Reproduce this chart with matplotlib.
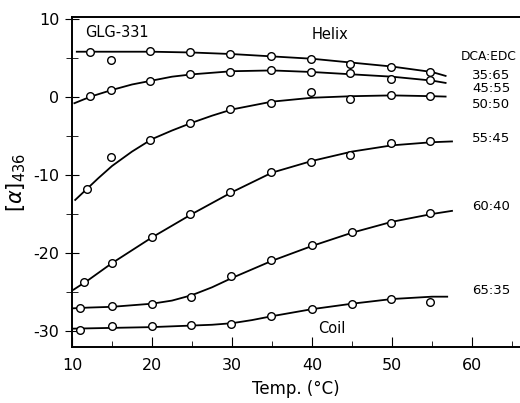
import numpy as np
import matplotlib
matplotlib.use("Agg")
import matplotlib.pyplot as plt
from matplotlib.ticker import MultipleLocator

plt.rcParams["font.family"] = ["DejaVu Sans"]
plt.rcParams["axes.unicode_minus"] = False

# measured points (open circles), one list per DCA:EDC ratio
t_35 = [12.25, 19.8, 24.75, 29.75, 34.9, 39.9, 44.8, 49.9, 54.8]
a_35 = [5.77, 5.9, 5.7, 5.5, 5.2, 4.9, 4.2, 3.9, 3.2]
t_35_extra = [14.9]
a_35_extra = [4.8]

t_45 = [12.3, 14.9, 19.8, 24.75, 29.75, 34.9, 39.9, 44.8, 49.9, 54.8]
a_45 = [0.1, 0.86, 2.1, 3.0, 3.25, 3.46, 3.2, 3.08, 2.3, 2.2]

t_50 = [11.9, 14.9, 19.8, 24.75, 29.75, 34.9, 39.9, 44.8, 49.9, 54.8]
a_50 = [-11.8, -7.7, -5.5, -3.3, -1.54, -0.73, 0.6, -0.2, 0.26, 0.13]

t_55 = [11.5, 15.0, 19.96, 24.8, 29.8, 34.9, 39.9, 44.8, 49.9, 54.8]
a_55 = [-23.7, -21.3, -18.0, -15.0, -12.2, -9.6, -8.4, -7.4, -5.9, -5.6]

t_60 = [11.0, 15.0, 20.0, 24.9, 29.9, 34.9, 40.0, 45.0, 49.9, 54.8]
a_60 = [-27.0, -26.8, -26.6, -25.6, -22.9, -20.9, -19.0, -17.3, -16.1, -14.9]

t_65 = [11.0, 15.0, 20.0, 24.9, 29.9, 34.9, 40.0, 45.0, 49.9, 54.8]
a_65 = [-29.9, -29.4, -29.4, -29.2, -29.1, -28.1, -27.2, -26.5, -25.9, -26.3]

# hand-drawn curves
ct_35 = [10.6, 15, 20, 25, 30, 35, 40, 45, 50, 55, 56.7]
ca_35 = [5.8, 5.8, 5.8, 5.7, 5.5, 5.2, 4.9, 4.4, 3.9, 3.2, 2.7]
ct_45 = [10.3, 11.5, 12.5, 15, 17.5, 20, 22.5, 25, 30, 35, 40, 45, 50, 55, 56.7]
ca_45 = [-0.8, -0.3, 0.1, 0.9, 1.6, 2.1, 2.6, 2.9, 3.3, 3.4, 3.2, 2.9, 2.6, 2.1, 1.8]
ct_50 = [10.4, 11.9, 13.3, 15, 17.5, 20, 22.5, 25, 27.5, 30, 35, 40, 45, 50, 55, 56.7]
ca_50 = [-13.2, -11.75, -10.4, -8.85, -7.0, -5.4, -4.3, -3.3, -2.4, -1.6, -0.6, -0.1, 0.1, 0.2, 0.1, 0.05]
ct_55 = [10.2, 12, 15, 20, 25, 30, 35, 40, 45, 50, 55, 57.5]
ca_55 = [-24.7, -23.5, -21.3, -18.0, -15.0, -12.2, -9.7, -8.2, -7.0, -6.2, -5.8, -5.7]
ct_60 = [10, 12, 15, 20, 22.5, 25, 27.5, 30, 35, 40, 45, 50, 55, 57.5]
ca_60 = [-27.1, -27.0, -26.9, -26.5, -26.1, -25.4, -24.4, -23.2, -21.0, -19.1, -17.4, -16.0, -15.0, -14.6]
ct_65 = [10, 15, 20, 25, 27.5, 30, 32.5, 35, 40, 45, 50, 55, 56.9]
ca_65 = [-29.7, -29.6, -29.5, -29.3, -29.2, -29.0, -28.6, -28.1, -27.2, -26.5, -25.9, -25.6, -25.6]

ratios = ["35:65", "45:55", "50:50", "55:45", "60:40", "65:35"]
ratio_y = [2.75, 1.1, -0.94, -5.3, -14.1, -24.8]

points = [(t_35, a_35), (t_45, a_45), (t_50, a_50), (t_55, a_55), (t_60, a_60), (t_65, a_65)]
curves = [(ct_35, ca_35), (ct_45, ca_45), (ct_50, ca_50), (ct_55, ca_55), (ct_60, ca_60), (ct_65, ca_65)]

fig = plt.figure(figsize=(5.2, 4.03), dpi=100)
ax = fig.add_axes([72 / 520, 1 - 347 / 403, 1 - 72 / 520, (347 - 17) / 403])

for (ct, ca) in curves:
    ax.plot(ct, ca, color="black", lw=1.3, zorder=2, solid_joinstyle="round")
for (t, a) in points + [(t_35_extra, a_35_extra)]:
    ax.plot(t, a, "o", ms=5.5, mfc="white", mec="black", mew=1.0, zorder=3)

ax.set_xlim(10, 66)
ax.set_ylim(-32.05, 10.25)
ax.spines["right"].set_visible(False)
for s in ["left", "bottom", "top"]:
    ax.spines[s].set_linewidth(1.4)

ax.xaxis.set_major_locator(MultipleLocator(10))
ax.xaxis.set_minor_locator(MultipleLocator(5))
ax.yaxis.set_major_locator(MultipleLocator(10))
ax.yaxis.set_minor_locator(MultipleLocator(5))
ax.tick_params(axis="x", which="both", direction="in", labelsize=11.5, pad=8)
ax.tick_params(axis="x", which="major", length=7)
ax.tick_params(axis="x", which="minor", length=4)
ax.tick_params(axis="y", which="both", direction="inout", labelsize=11.5, pad=4)
ax.tick_params(axis="y", which="major", length=10)
ax.tick_params(axis="y", which="minor", length=8)

ax.text(11.6, 8.3, "GLG-331", fontsize=10.5, va="center", ha="left")
ax.text(42.3, 8.0, "Helix", fontsize=10.5, va="center", ha="center")
ax.text(42.5, -29.7, "Coil", fontsize=10.5, va="center", ha="center")
ax.text(58.6, 5.2, "DCA:EDC", fontsize=8.8, va="center", ha="left")
for lab, y in zip(ratios, ratio_y):
    ax.text(60.0, y, lab, fontsize=9.5, va="center", ha="left")

ax.set_xlabel("Temp. (°C)", fontsize=12, labelpad=5)
ax.set_ylabel(r"$[\alpha]_{436}$", fontsize=15, labelpad=4)

fig.savefig("out.png", dpi=100)
